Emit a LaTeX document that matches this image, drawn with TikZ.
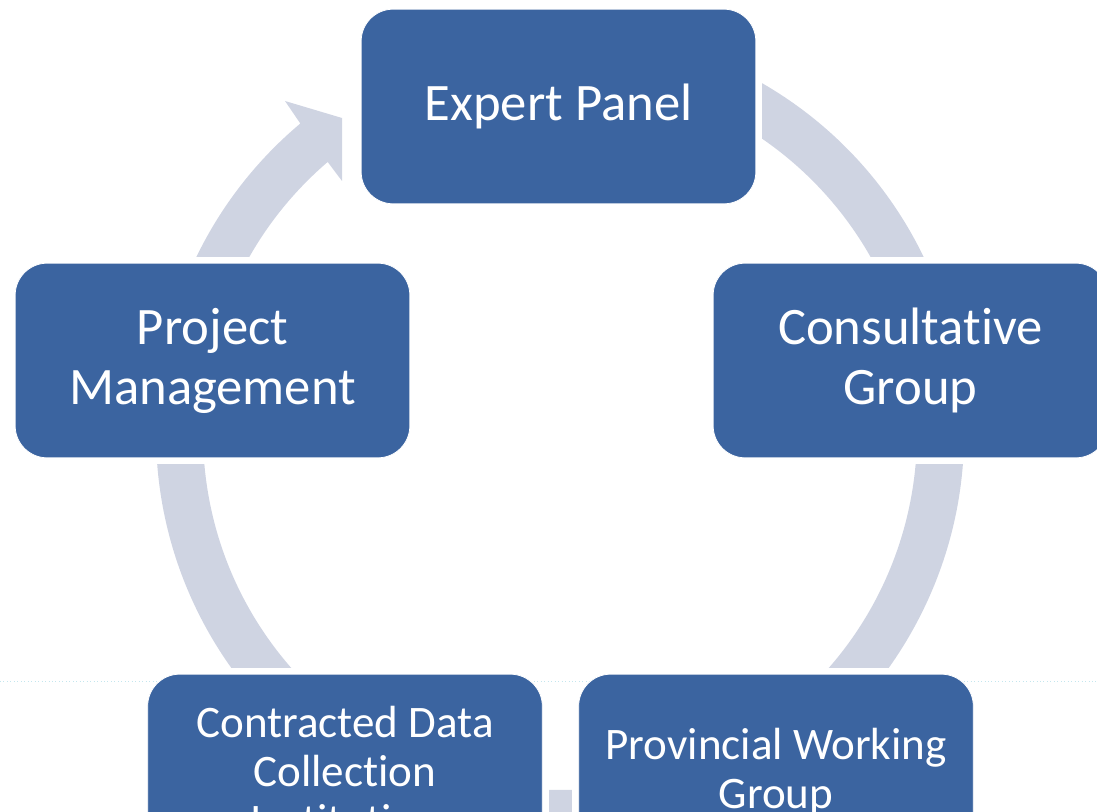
\documentclass[tikz,border=0pt]{standalone}
\usepackage{fontspec}
\setmainfont{Carlito}[Ligatures=NoCommon]
\usetikzlibrary{backgrounds}
\definecolor{boxblue}{HTML}{3B64A0}
\definecolor{ringgray}{HTML}{CFD4E2}
\definecolor{guidecyan}{HTML}{C4E6EE}
\begin{document}
\begin{tikzpicture}[x=0.75pt,y=-0.75pt,
  stagebox/.style={draw=white, line width=0.6pt, fill=boxblue, rounded corners=24pt,
    minimum width=296pt, minimum height=146pt, text=white, align=center, inner sep=0pt},
  bigtext/.style={font=\fontsize{39.5}{45}\selectfont},
  smalltext/.style={font=\fontsize{33.8}{36.75}\selectfont},
  gapcover/.style={fill=white},
  ringfill/.style={fill=ringgray},
  guideline/.style={draw=guidecyan, dotted, line width=0.6pt}]
\clip (0,0) rectangle (1097,812);

\node[stagebox, bigtext] (ep) at (558.5,106.5) {Expert Panel};
\node[stagebox, bigtext] (pm) at (212.5,360.5) {Project\\Management};
\node[stagebox, bigtext] (cg) at (910.5,360.5) {Consultative\\Group};
\node[stagebox, smalltext] (cd) at (345,771.5) {Contracted Data\\Collection\\Institution};
\node[stagebox, smalltext] (pw) at (776,771.5) {Provincial Working\\Group};

\coordinate (ctr) at (560,433);
\coordinate (guideL) at (0,681);
\coordinate (guideR) at (1097,681);

\begin{pgfonlayer}{background}
  % cycle ring with arrowhead
  \fill[ringfill] ([shift={(ctr)}]-62:404) arc[start angle=-62, end angle=230, radius=404]
     -- (285,101) -- (342,118) -- (342,181) -- ([shift={(ctr)}]229.4:357)
     arc[start angle=229.4, end angle=-62, radius=357] -- cycle;
  % gaps around the boxes
  \foreach \b in {ep,pm,cg,cd,pw}{
    \fill[gapcover] ([shift={(-6,-6)}]\b.north west) rectangle ([shift={(6,6)}]\b.south east);
  }
  \draw[guideline] (guideL) -- (guideR);
\end{pgfonlayer}
\end{tikzpicture}
\end{document}
